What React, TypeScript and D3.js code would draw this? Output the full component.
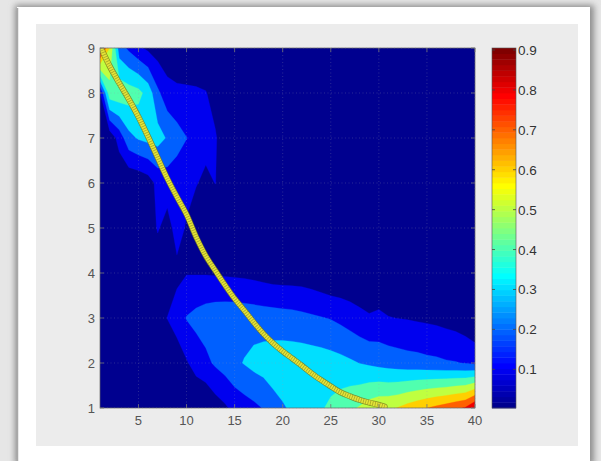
import React from 'react';
import * as d3 from 'd3';

// Sampling grid of the surface
const GRID_X = [1, 2, 3, 4, 5, 6, 7, 8, 9, 10, 11, 12, 13, 14, 15, 16, 17, 18, 19, 20,
  21, 22, 23, 24, 25, 26, 27, 28, 29, 30, 31, 32, 33, 34, 35, 36, 37, 38, 39, 40];
const GRID_Y = [1, 2, 3, 4, 5, 6, 7, 8, 9];

// Surface values, one row per GRID_Y entry (x = 1..40)
const ROW_1 = [0.01, 0.01, 0.01, 0.01, 0.01, 0.01, 0.01, 0.01, 0.01, 0.01, 0.003, 0.003, 0.05, 0.084, 0.13, 0.155, 0.177, 0.205, 0.26, 0.29,
  0.315, 0.34, 0.365, 0.39, 0.42, 0.45, 0.48, 0.51, 0.55, 0.58, 0.585, 0.605, 0.64, 0.67, 0.7, 0.725, 0.75, 0.78, 0.81, 0.905];
const ROW_2 = [0.01, 0.01, 0.01, 0.01, 0.01, 0.01, 0.01, 0.02, 0.036, 0.09, 0.14, 0.175, 0.215, 0.245, 0.28, 0.305, 0.33, 0.345, 0.355, 0.36,
  0.36, 0.36, 0.355, 0.35, 0.34, 0.33, 0.315, 0.298, 0.285, 0.27, 0.26, 0.25, 0.24, 0.235, 0.225, 0.22, 0.21, 0.205, 0.195, 0.18];
const ROW_3 = [0.01, 0.01, 0.01, 0.02, 0.02, 0.03, 0.05, 0.102, 0.15, 0.205, 0.23, 0.25, 0.26, 0.265, 0.265, 0.26, 0.255, 0.25, 0.245, 0.24,
  0.235, 0.225, 0.215, 0.205, 0.195, 0.177, 0.155, 0.13, 0.108, 0.12, 0.104, 0.098, 0.094, 0.088, 0.083, 0.076, 0.066, 0.055, 0.035, 0.003];
const ROW_4 = [0.01, 0.01, 0.01, 0.01, 0.01, 0.01, 0.02, 0.03, 0.073, 0.095, 0.094, 0.093, 0.09, 0.086, 0.082, 0.078, 0.07, 0.06, 0.05, 0.048,
  0.046, 0.045, 0.035, 0.02, 0.003, 0.003, 0.003, 0.003, 0.03, 0.015, 0.003, 0.003, 0.003, 0.003, 0.003, 0.003, 0.003, 0.003, 0.003, 0.003];
const ROW_5 = [0.01, 0.01, 0.01, 0.01, 0.01, 0.03, 0.11, 0.06, 0.14, 0.09, 0.05, 0.03, 0.02, 0.01, 0.01, 0.01, 0.01, 0.01, 0.01, 0.01,
  0.01, 0.01, 0.01, 0.01, 0.01, 0.01, 0.01, 0.01, 0.01, 0.01, 0.01, 0.01, 0.01, 0.01, 0.01, 0.01, 0.01, 0.01, 0.01, 0.01];
const ROW_6 = [0.01, 0.01, 0.01, 0.01, 0.02, 0.05, 0.13, 0.15, 0.14, 0.13, 0.105, 0.08, 0.102, 0.03, 0.01, 0.01, 0.01, 0.01, 0.01, 0.01,
  0.01, 0.01, 0.01, 0.01, 0.01, 0.01, 0.01, 0.01, 0.01, 0.01, 0.01, 0.01, 0.01, 0.01, 0.01, 0.01, 0.01, 0.01, 0.01, 0.01];
const ROW_7 = [0.02, 0.03, 0.14, 0.27, 0.31, 0.33, 0.34, 0.29, 0.24, 0.202, 0.16, 0.13, 0.11, 0.04, 0.01, 0.01, 0.01, 0.01, 0.01, 0.01,
  0.01, 0.01, 0.01, 0.01, 0.01, 0.01, 0.01, 0.01, 0.01, 0.01, 0.01, 0.01, 0.01, 0.01, 0.01, 0.01, 0.01, 0.01, 0.01, 0.01];
const ROW_8 = [0.09, 0.46, 0.47, 0.45, 0.43, 0.36, 0.22, 0.14, 0.125, 0.12, 0.115, 0.105, 0.06, 0.03, 0.01, 0.01, 0.01, 0.01, 0.01, 0.01,
  0.01, 0.01, 0.01, 0.01, 0.01, 0.01, 0.01, 0.01, 0.01, 0.01, 0.01, 0.01, 0.01, 0.01, 0.01, 0.01, 0.01, 0.01, 0.01, 0.01];
const ROW_9 = [0.88, 0.6, 0.25, 0.18, 0.12, 0.08, 0.05, 0.03, 0.01, 0.01, 0.01, 0.01, 0.01, 0.01, 0.01, 0.01, 0.01, 0.01, 0.01, 0.01,
  0.01, 0.01, 0.01, 0.01, 0.01, 0.01, 0.01, 0.01, 0.01, 0.01, 0.01, 0.01, 0.01, 0.01, 0.01, 0.01, 0.01, 0.01, 0.01, 0.01];

const LEVELS = [0.1, 0.2, 0.3, 0.4, 0.5, 0.6, 0.7, 0.8];

// Fitted path drawn over the surface
const CURVE_X = [1.1, 2, 3, 4, 5, 6, 7, 8, 9, 10, 11, 12, 13, 14, 15, 16, 17, 18, 19, 20, 21, 22, 23, 24, 25, 26, 27, 28, 29, 30, 30.6];
const CURVE_Y = [9.0, 8.6, 8.22, 7.86, 7.47, 7.03, 6.56, 6.1, 5.69, 5.3, 4.8, 4.38, 4.05, 3.73, 3.43, 3.17, 2.9, 2.65, 2.44, 2.26, 2.1, 1.94, 1.77, 1.62, 1.48, 1.35, 1.26, 1.18, 1.12, 1.07, 1.03];

const X_TICKS = [5, 10, 15, 20, 25, 30, 35, 40];
const Y_TICKS = [1, 2, 3, 4, 5, 6, 7, 8, 9];
const CBAR_TICKS = [0.1, 0.2, 0.3, 0.4, 0.5, 0.6, 0.7, 0.8, 0.9];

const W = 601;
const H = 461;
const PLOT = { left: 100, right: 475, top: 48, bottom: 408 };
const CBAR = { left: 492, width: 24 };
const FONT = '"Liberation Sans", Arial, Helvetica, sans-serif';

// MATLAB-style 64 entry jet colormap
function jet64(k: number): string {
  let r = 0, g = 0, b = 0;
  if (k <= 8) { b = 0.5 + k / 16; }
  else if (k <= 24) { g = (k - 8) / 16; b = 1; }
  else if (k <= 40) { r = (k - 24) / 16; g = 1; b = 1 - (k - 24) / 16; }
  else if (k <= 56) { r = 1; g = 1 - (k - 40) / 16; }
  else { r = 1 - (k - 56) / 16; }
  return d3.rgb(r * 255, g * 255, b * 255).formatHex();
}

export default function App() {
  const rows = [ROW_1, ROW_2, ROW_3, ROW_4, ROW_5, ROW_6, ROW_7, ROW_8, ROW_9];
  const values = rows.flat();
  const [cmin, cmax] = d3.extent(values) as [number, number];
  const colorIndex = (v: number) => Math.min(64, Math.floor(((v - cmin) / (cmax - cmin)) * 64) + 1);
  const colorOf = (v: number) => jet64(colorIndex(v));

  const x = d3.scaleLinear().domain([GRID_X[0], GRID_X[GRID_X.length - 1]]).range([PLOT.left, PLOT.right]);
  const y = d3.scaleLinear().domain([GRID_Y[0], GRID_Y[GRID_Y.length - 1]]).range([PLOT.bottom, PLOT.top]);
  const cbarY = d3.scaleLinear().domain([cmin, cmax]).range([PLOT.bottom, PLOT.top]);

  const nx = GRID_X.length;
  const ny = GRID_Y.length;
  const dxStep = GRID_X[1] - GRID_X[0];
  const dyStep = GRID_Y[1] - GRID_Y[0];
  const contours = d3.contours().size([nx, ny]).thresholds(LEVELS)(values);
  const proj = d3.geoTransform({
    point(px: number, py: number) {
      (this as any).stream.point(
        x(GRID_X[0] + (px - 0.5) * dxStep),
        y(GRID_Y[0] + (py - 0.5) * dyStep)
      );
    },
  });
  const path = d3.geoPath(proj);

  const line = d3
    .line<number>()
    .x((_, i) => x(CURVE_X[i]))
    .y((d) => y(d))
    .curve(d3.curveCatmullRom);
  const curvePath = line(CURVE_Y) || '';

  const steps = d3.range(64);
  const stepH = (PLOT.bottom - PLOT.top) / 64;

  return (
    <svg width={W} height={H} style={{ position: 'absolute', left: 0, top: 0 }} fontFamily={FONT}>
      <defs>
        <clipPath id="plot-clip">
          <rect x={PLOT.left} y={PLOT.top} width={PLOT.right - PLOT.left} height={PLOT.bottom - PLOT.top} />
        </clipPath>
        <filter id="card-shadow" x="-10%" y="-10%" width="120%" height="120%">
          <feGaussianBlur stdDeviation="3" />
        </filter>
      </defs>

      {/* page and card */}
      <rect x={0} y={0} width={W} height={H} fill="#e6e6e6" />
      <rect x={15} y={5} width={579} height={460} fill="#8c8c8c" filter="url(#card-shadow)" />
      <rect x={17} y={7} width={573} height={456} fill="#ffffff" />
      <line x1={17.5} x2={17.5} y1={8} y2={461} stroke="#a8a8a8" strokeWidth={1.5} />
      <rect x={36} y={24} width={542} height={422} fill="#ececec" />

      {/* filled contours */}
      <g clipPath="url(#plot-clip)">
        <rect x={PLOT.left} y={PLOT.top} width={PLOT.right - PLOT.left} height={PLOT.bottom - PLOT.top} fill={colorOf(cmin)} />
        {contours.map((c, i) => (
          <path key={i} d={path(c as any) || ''} fill={colorOf(c.value)} stroke={colorOf(c.value)} strokeWidth={0.3} />
        ))}
      </g>

      {/* dotted grid */}
      <g stroke="#9a9aaa" strokeWidth={0.8} strokeDasharray="1 2.5" opacity={0.35}>
        {X_TICKS.map((t) => (
          <line key={'gx' + t} x1={x(t)} x2={x(t)} y1={PLOT.top} y2={PLOT.bottom} />
        ))}
        {Y_TICKS.map((t) => (
          <line key={'gy' + t} x1={PLOT.left} x2={PLOT.right} y1={y(t)} y2={y(t)} />
        ))}
      </g>

      {/* fitted path */}
      <g clipPath="url(#plot-clip)" fill="none" strokeLinecap="round" strokeLinejoin="round">
        <path d={curvePath} stroke="#77771a" strokeWidth={6} opacity={0.8} />
        <path d={curvePath} stroke="#e4e438" strokeWidth={4.6} />
        <path d={curvePath} stroke="#8f8f1e" strokeWidth={4.6} strokeDasharray="0.8 1.6" strokeLinecap="butt" opacity={0.7} />
      </g>

      {/* axes box and ticks */}
      <rect x={PLOT.left} y={PLOT.top} width={PLOT.right - PLOT.left} height={PLOT.bottom - PLOT.top} fill="none" stroke="#666" strokeWidth={0.7} />
      <g stroke="#777" strokeWidth={0.8}>
        {X_TICKS.map((t) => (
          <g key={'tx' + t}>
            <line x1={x(t)} x2={x(t)} y1={PLOT.bottom} y2={PLOT.bottom - 4} />
            <line x1={x(t)} x2={x(t)} y1={PLOT.top} y2={PLOT.top + 4} />
          </g>
        ))}
        {Y_TICKS.map((t) => (
          <g key={'ty' + t}>
            <line x1={PLOT.left} x2={PLOT.left + 4} y1={y(t)} y2={y(t)} />
            <line x1={PLOT.right} x2={PLOT.right - 4} y1={y(t)} y2={y(t)} />
          </g>
        ))}
      </g>
      <g fill="#555" fontSize={13}>
        {X_TICKS.map((t) => (
          <text key={'lx' + t} x={x(t)} y={PLOT.bottom + 17} textAnchor="middle">{t}</text>
        ))}
        {Y_TICKS.map((t) => (
          <text key={'ly' + t} x={PLOT.left - 5} y={y(t) + 5} textAnchor="end">{t}</text>
        ))}
      </g>

      {/* colorbar */}
      <g>
        {steps.map((k) => (
          <rect key={k} x={CBAR.left} y={PLOT.bottom - (k + 1) * stepH} width={CBAR.width} height={stepH + 0.4} fill={jet64(k + 1)} />
        ))}
        <rect x={CBAR.left} y={PLOT.top} width={CBAR.width} height={PLOT.bottom - PLOT.top} fill="none" stroke="#555" strokeWidth={0.6} />
        <g stroke="#444" strokeWidth={0.8}>
          {CBAR_TICKS.map((t) => (
            <g key={'ct' + t}>
              <line x1={CBAR.left} x2={CBAR.left + 3} y1={cbarY(t)} y2={cbarY(t)} />
              <line x1={CBAR.left + CBAR.width} x2={CBAR.left + CBAR.width - 3} y1={cbarY(t)} y2={cbarY(t)} />
            </g>
          ))}
        </g>
        <g fill="#333" fontSize={13.5}>
          {CBAR_TICKS.map((t) => (
            <text key={'cl' + t} x={CBAR.left + CBAR.width + 2} y={cbarY(t) + 5}>{t.toFixed(1)}</text>
          ))}
        </g>
      </g>
    </svg>
  );
}
